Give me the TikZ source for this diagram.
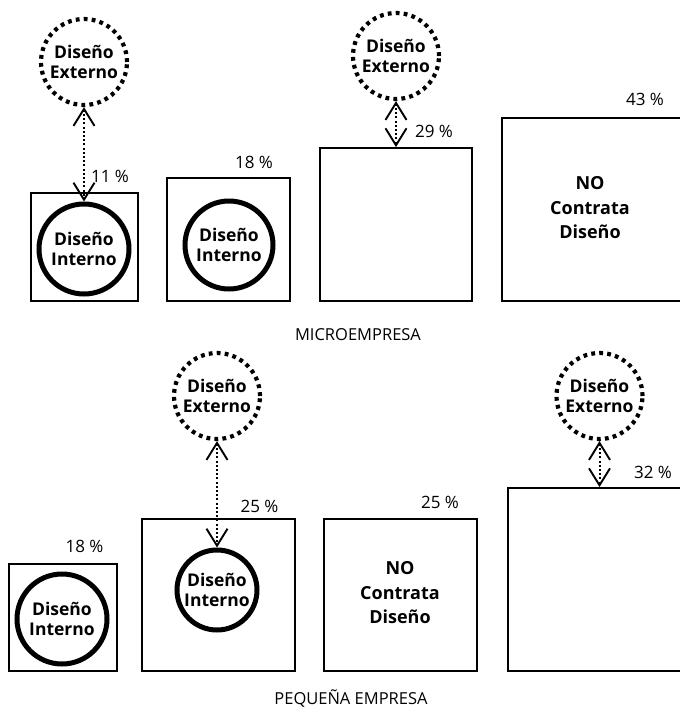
\documentclass[tikz,border=0pt]{standalone}
\usepackage{fontspec}
\setmainfont{Open Sans}
\usetikzlibrary{arrows.meta}
\begin{document}
\begin{tikzpicture}[x=1pt,y=-1pt,
  every node/.style={inner sep=0pt},
  box/.style={draw, rectangle, line width=1.8pt},
  intcirc/.style={draw, circle, line width=5pt, minimum size=#1, align=center,
    font=\bfseries\fontsize{17.5}{20}\selectfont},
  extcirc/.style={draw, circle, line width=4.2pt, dash pattern=on 3.8pt off 4.2pt,
    minimum size=86pt, align=center, font=\bfseries\fontsize{17.5}{20}\selectfont},
  notext/.style={align=center, font=\bfseries\fontsize{18}{24.5}\selectfont},
  pct/.style={anchor=base, font=\fontsize{17}{20}\selectfont},
  caption/.style={anchor=base, font=\fontsize{16.5}{20}\selectfont},
  link/.style={line width=2pt, dash pattern=on 2pt off 2.2pt, <->,
    >={Straight Barb[length=17pt,width=21pt,line width=1.9pt]}}
]
\clip (0,0) rectangle (680,707);

% ---------- MICROEMPRESA ----------
\node[box, minimum width=107pt, minimum height=108pt] (boxA) at (84.5,247) {};
\node[intcirc=90pt] (circA) at (84,249) {Diseño\\Interno};
\node[extcirc] (extA) at (84,62) {Diseño\\Externo};
\draw[link] (extA.south) -- (circA.north);
\node[pct] (pctA) at (110,182) {11 \%};

\node[box, minimum width=123pt, minimum height=123pt] (boxB) at (228.5,239.5) {};
\node[intcirc=88pt] (circB) at (229,245) {Diseño\\Interno};
\node[pct] (pctB) at (254,168) {18 \%};

\node[box, minimum width=152pt, minimum height=153pt] (boxC) at (396,224.5) {};
\node[extcirc] (extC) at (396,56) {Diseño\\Externo};
\draw[link] (extC.south) -- (boxC.north);
\node[pct] (pctC) at (434,137) {29 \%};

\node[box, minimum width=182pt, minimum height=183pt] (boxD) at (593,209.5) {};
\node[notext] (noD) at (590,208) {NO\\Contrata\\Diseño};
\node[pct] (pctD) at (645,105) {43 \%};

\node[caption] (micro) at (358,340) {MICROEMPRESA};

% ---------- PEQUEÑA EMPRESA ----------
\node[box, minimum width=108pt, minimum height=107pt] (boxE) at (63,617.5) {};
\node[intcirc=90pt] (circE) at (62,619) {Diseño\\Interno};
\node[pct] (pctE) at (84.5,552) {18 \%};

\node[box, minimum width=153pt, minimum height=152pt] (boxF) at (218.5,595) {};
\node[intcirc=80pt] (circF) at (217,590) {Diseño\\Interno};
\node[extcirc] (extF) at (217,396) {Diseño\\Externo};
\draw[link] (extF.south) -- (circF.north);
\node[pct] (pctF) at (259.5,512) {25 \%};

\node[box, minimum width=153pt, minimum height=152pt] (boxG) at (400.5,595) {};
\node[notext] (noG) at (400,593) {NO\\Contrata\\Diseño};
\node[pct] (pctG) at (440,508) {25 \%};

\node[box, minimum width=183pt, minimum height=183pt] (boxH) at (599.5,579.5) {};
\node[extcirc] (extH) at (599.5,396) {Diseño\\Externo};
\draw[link] (extH.south) -- (boxH.north);
\node[pct] (pctH) at (653,478) {32 \%};

\node[caption] (pequena) at (351,704) {PEQUEÑA EMPRESA};
\end{tikzpicture}
\end{document}
